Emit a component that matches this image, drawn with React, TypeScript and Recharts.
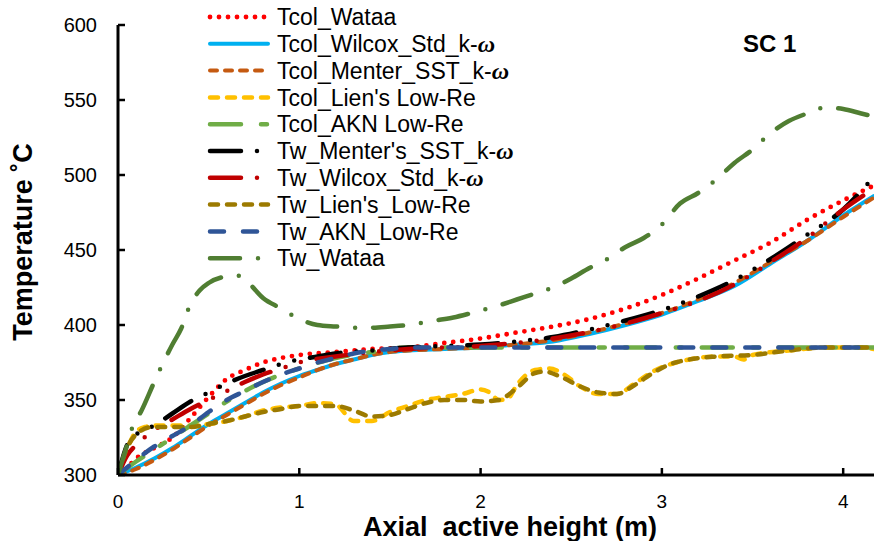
import React from 'react';
import { LineChart, Line, XAxis, YAxis, Legend } from 'recharts';

// ---- data (x = axial active height in m, T = temperature in °C) ----
const xTicks = [0, 1, 2, 3, 4];
const yTicks = [300, 350, 400, 450, 500, 550, 600];

const tcolWataa = [[0,300],[0.05,305],[0.1,311],[0.2,318],[0.3,325],[0.4,338],[0.5,352],[0.6,364],[0.7,370],[0.8,375],[0.9,378],[1.0,380],[1.2,382],[1.4,384],[1.6,385],[1.8,388],[2.0,391],[2.2,395],[2.4,399],[2.6,404],[2.8,411],[3.0,420],[3.2,431],[3.4,443],[3.6,455],[3.8,470],[4.0,483],[4.17,493]];
const tcolWilcox = [[0,300],[0.1,305],[0.2,311],[0.3,318],[0.4,326],[0.5,334],[0.6,341],[0.7,348],[0.8,355],[0.9,361],[1.0,366],[1.1,370],[1.2,374],[1.3,377],[1.4,380],[1.5,382],[1.6,383],[1.8,384],[2.0,385],[2.2,387],[2.4,389],[2.6,394],[2.8,400],[3.0,407],[3.2,416],[3.4,426],[3.6,441],[3.8,456],[4.0,473],[4.17,486]];
const tcolMenter = [[0,300],[0.1,304],[0.2,310],[0.3,317],[0.4,325],[0.5,333],[0.6,340],[0.7,347],[0.8,354],[0.9,360],[1.0,365],[1.1,370],[1.2,374],[1.3,377],[1.4,380],[1.5,382],[1.6,383],[1.8,384],[2.0,385],[2.2,387],[2.4,390],[2.6,395],[2.8,401],[3.0,408],[3.2,417],[3.4,428],[3.6,442],[3.8,456],[4.0,472],[4.17,485]];
const tcolLien = [[0,300],[0.03,310],[0.06,320],[0.1,329],[0.15,332],[0.2,333],[0.3,333],[0.4,333],[0.5,334],[0.6,336],[0.7,339],[0.8,343],[0.9,345],[1.0,346],[1.1,348],[1.2,347],[1.3,336],[1.4,336],[1.5,342],[1.6,346],[1.7,350],[1.8,352],[1.9,354],[2.0,357],[2.05,355],[2.1,350],[2.15,351],[2.2,360],[2.3,370],[2.38,371],[2.46,367],[2.55,359],[2.65,354],[2.75,354],[2.85,361],[2.95,369],[3.05,374],[3.15,377],[3.3,379],[3.4,379],[3.45,377],[3.5,380],[3.7,383],[3.9,385],[4.1,385],[4.17,384]];
const tcolAkn = [[0,300],[0.1,309],[0.2,317],[0.3,325],[0.4,333],[0.5,341],[0.6,349],[0.7,356],[0.8,362],[0.9,367],[1.0,371],[1.2,378],[1.4,382],[1.6,385],[2.5,385],[3.5,385],[4.17,385]];
const twMenter = [[0,300],[0.05,320],[0.1,327],[0.2,333],[0.3,341],[0.4,349],[0.5,355],[0.6,361],[0.7,366],[0.8,370],[0.9,374],[1.0,377],[1.1,379],[1.2,381],[1.4,383],[1.6,385],[1.8,386],[2.0,387],[2.2,389],[2.4,392],[2.6,397],[2.8,403],[3.0,410],[3.2,419],[3.4,430],[3.6,444],[3.8,460],[4.0,477],[4.17,499]];
const twWilcox = [[0,300],[0.05,313],[0.1,320],[0.2,330],[0.3,337],[0.4,344],[0.5,350],[0.6,356],[0.7,362],[0.8,367],[0.9,371],[1.0,375],[1.2,379],[1.4,382],[1.6,384],[2.0,386],[2.4,391],[2.8,401],[3.0,408],[3.2,416],[3.4,427],[3.6,442],[3.8,458],[4.0,477],[4.17,491]];
const twLien = [[0,300],[0.05,318],[0.1,327],[0.19,332],[0.3,332],[0.4,332],[0.5,334],[0.6,336],[0.7,339],[0.8,342],[0.9,344],[1.0,346],[1.1,346],[1.2,346],[1.3,343],[1.4,339],[1.5,340],[1.6,344],[1.7,348],[1.8,350],[1.9,350],[2.0,349],[2.1,350],[2.2,358],[2.3,368],[2.35,369],[2.45,365],[2.55,359],[2.65,355],[2.75,354],[2.85,360],[2.95,368],[3.05,374],[3.15,377],[3.3,379],[3.5,380],[3.7,383],[3.9,385],[4.17,385]];
const twAkn = [[0,300],[0.1,310],[0.2,319],[0.3,326],[0.4,333],[0.5,342],[0.6,350],[0.7,356],[0.8,362],[0.9,367],[1.0,371],[1.1,375],[1.2,378],[1.3,381],[1.4,383],[1.5,384],[1.6,385],[2.5,385],[3.5,385],[4.17,385]];
const twWataa = [[0,300],[0.05,320],[0.08,332],[0.13,343],[0.2,362],[0.25,375],[0.3,387],[0.35,398],[0.4,414],[0.45,423],[0.5,428],[0.58,432],[0.66,433],[0.72,428],[0.8,418],[0.9,411],[1.0,404],[1.1,400],[1.2,399],[1.35,398],[1.5,399],[1.6,400],[1.75,403],[1.85,405],[1.95,408],[2.1,413],[2.2,417],[2.3,421],[2.4,425],[2.5,431],[2.6,438],[2.7,444],[2.8,452],[2.9,458],[3.0,467],[3.1,481],[3.2,488],[3.3,497],[3.4,508],[3.5,517],[3.6,528],[3.7,536],[3.8,541],[3.9,545],[4.0,544],[4.1,541],[4.17,539]];

const toRows = (pairs: number[][]) => pairs.map(([x, y]) => ({ x, y }));

type S = { key: string; label: string; omega?: boolean; data: number[][]; color: string; width: number; dash?: string };

const series: S[] = [
  { key: 'tcolWataa', label: 'Tcol_Wataa', data: tcolWataa, color: '#FF0000', width: 4.8, dash: '0 9' },
  { key: 'tcolWilcox', label: 'Tcol_Wilcox_Std_k-', omega: true, data: tcolWilcox, color: '#00B0F0', width: 4 },
  { key: 'tcolMenter', label: 'Tcol_Menter_SST_k-', omega: true, data: tcolMenter, color: '#C55A11', width: 4, dash: '7 8' },
  { key: 'tcolLien', label: "Tcol_Lien's Low-Re", data: tcolLien, color: '#FFC000', width: 4.5, dash: '8 9' },
  { key: 'tcolAkn', label: 'Tcol_AKN Low-Re', data: tcolAkn, color: '#70AD47', width: 4.5, dash: '31 20 6 20' },
  { key: 'twMenter', label: "Tw_Menter's_SST_k-", omega: true, data: twMenter, color: '#000000', width: 4.5, dash: '31 16 0 16 0 16' },
  { key: 'twWilcox', label: 'Tw_Wilcox_Std_k-', omega: true, data: twWilcox, color: '#C00000', width: 4.5, dash: '31 16 0 16 0 16' },
  { key: 'twLien', label: "Tw_Lien's_Low-Re", data: twLien, color: '#9C7A00', width: 4.5, dash: '8 9' },
  { key: 'twAkn', label: 'Tw_AKN_Low-Re', data: twAkn, color: '#2F5597', width: 4.5, dash: '14 19' },
  { key: 'twWataa', label: 'Tw_Wataa', data: twWataa, color: '#507E32', width: 4.5, dash: '30 18 0 18' },
];

const FONT = '"Liberation Sans", Arial, sans-serif';

const LegendBox = () => (
  <svg width={874} height={541} style={{ position: 'absolute', left: 0, top: 0, pointerEvents: 'none' }}>
    {series.map((s, i) => {
      const y = 17 + i * 26.8;
      return (
        <g key={s.key}>
          <line x1={210} x2={268} y1={y} y2={y} stroke={s.color} strokeWidth={s.width} strokeDasharray={s.dash} strokeLinecap="round" />
          <text x={277} y={y} dy="0.36em" fontFamily={FONT} fontSize={23} fill="#000">
            {s.label}
            {s.omega ? <tspan fontFamily='"Liberation Serif", serif' fontWeight="bold" fontStyle="italic" fontSize={24}>ω</tspan> : null}
          </text>
        </g>
      );
    })}
    <text x={743} y={52} fontFamily={FONT} fontSize={24} fontWeight="bold" fill="#000">SC 1</text>
  </svg>
);

const XTitle = (props: any) => {
  const vb = props.viewBox;
  return (
    <text x={vb.x + vb.width / 2 + 14} y={vb.y + 61} textAnchor="middle" fontFamily={FONT} fontSize={27} fontWeight="bold" fill="#000" style={{ whiteSpace: 'pre' }}>
      {'Axial  active height (m)'}
    </text>
  );
};

const YTitle = (props: any) => {
  const vb = props.viewBox;
  const cx = vb.x + 32;
  const cy = vb.y + vb.height / 2 - 8;
  return (
    <text transform={`translate(${cx},${cy}) rotate(-90)`} textAnchor="middle" fontFamily={FONT} fontSize={27} fontWeight="bold" fill="#000">
      Temperature ˚C
    </text>
  );
};

// ticks drawn inward (toward the plot) with their labels outside
const X_MARGIN = 20;
const Y_MARGIN = 21;
const XTick = (props: any) => {
  const { x, y, payload } = props;
  return (
    <g>
      <line x1={x} x2={x} y1={y - X_MARGIN} y2={y - X_MARGIN - 7} stroke="#000" strokeWidth={2.5} />
      <text x={x} y={y} dy="0.71em" textAnchor="middle" fontFamily={FONT} fontSize={19} fill="#000">{payload.value}</text>
    </g>
  );
};
const YTick = (props: any) => {
  const { x, y, payload } = props;
  return (
    <g>
      <line x1={x + Y_MARGIN} x2={x + Y_MARGIN + 7} y1={y} y2={y} stroke="#000" strokeWidth={2.5} />
      <text x={x} y={y} dy="0.35em" textAnchor="end" fontFamily={FONT} fontSize={20} fill="#000">{payload.value}</text>
    </g>
  );
};

export default function App() {
  return (
    <div style={{ position: 'absolute', left: 0, top: 0, width: 874, height: 541, background: '#fff' }}>
      <LineChart width={874} height={541} margin={{ top: 25, right: 0, bottom: 0, left: 0 }}>
        <XAxis
          type="number"
          dataKey="x"
          domain={[0, 4.17]}
          ticks={xTicks}
          allowDataOverflow
          height={66}
          axisLine={{ stroke: '#000', strokeWidth: 3 }}
          tickLine={false}
          tickSize={0}
          tickMargin={X_MARGIN}
          tick={<XTick />}
          label={<XTitle />}
        />
        <YAxis
          type="number"
          dataKey="y"
          domain={[300, 600]}
          ticks={yTicks}
          allowDataOverflow
          width={118}
          axisLine={{ stroke: '#000', strokeWidth: 3 }}
          tickLine={false}
          tickSize={0}
          tickMargin={Y_MARGIN}
          tick={<YTick />}
          label={<YTitle />}
        />
        {series.map((s) => (
          <Line
            key={s.key}
            data={toRows(s.data)}
            dataKey="y"
            name={s.key}
            type="monotone"
            stroke={s.color}
            strokeWidth={s.width}
            strokeDasharray={s.dash}
            strokeLinecap="round"
            dot={false}
            activeDot={false}
            isAnimationActive={false}
          />
        ))}
        <Legend
          layout="vertical"
          align="center"
          verticalAlign="middle"
          wrapperStyle={{ position: 'absolute', left: 0, top: 0, width: 874, height: 541, pointerEvents: 'none' }}
          content={() => <LegendBox />}
        />
      </LineChart>
    </div>
  );
}
